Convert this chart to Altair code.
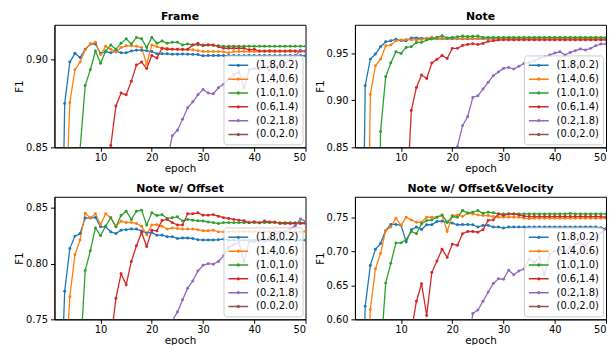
import altair as alt
import pandas as pd

SERIES = ["(1.8,0.2)", "(1.4,0.6)", "(1.0,1.0)", "(0.6,1.4)", "(0.2,1.8)", "(0.0,2.0)"]
COLORS = ["#1f77b4", "#ff7f0e", "#2ca02c", "#d62728", "#9467bd", "#8c564b"]
X_TICKS = [10, 20, 30, 40, 50]

# Each series: (first epoch, values from that epoch to 50). The first value sits below the axis floor.
FRAME = {
    "(1.8,0.2)": (2, [0.70, 0.875, 0.8987, 0.9037, 0.9013, 0.906, 0.909, 0.909,
                      0.9036, 0.9047, 0.904, 0.905, 0.904, 0.904, 0.905, 0.9055, 0.9055, 0.9052,
                      0.9047, 0.9034, 0.9034, 0.9034, 0.9032, 0.9032, 0.9033, 0.9032, 0.9031, 0.903,
                      0.9023, 0.9024, 0.9024, 0.9025, 0.9024, 0.9024, 0.9025, 0.9024, 0.9024, 0.9025,
                      0.9024, 0.9024, 0.9025, 0.9024, 0.9024, 0.9024, 0.9025, 0.9024, 0.9024, 0.9024, 0.9023]),
    "(1.4,0.6)": (3, [0.80, 0.8755, 0.8943, 0.8987, 0.9057, 0.909, 0.910,
                      0.903, 0.9077, 0.906, 0.9045, 0.907, 0.908, 0.908, 0.9077, 0.907, 0.8975,
                      0.9085, 0.9075, 0.9066, 0.9066, 0.906, 0.906, 0.9057, 0.9057, 0.9057, 0.9052,
                      0.9047, 0.9047, 0.9047, 0.9047, 0.9045, 0.904, 0.9047, 0.9047, 0.9048, 0.9047,
                      0.9047, 0.9048, 0.9047, 0.9047, 0.9047, 0.9048, 0.9047, 0.9047, 0.9047, 0.9048, 0.9047]),
    "(1.0,1.0)": (5, [0.60, 0.849, 0.8853, 0.8943, 0.905,
                      0.898, 0.905, 0.9085, 0.906, 0.9094, 0.912, 0.909, 0.9128, 0.912, 0.907,
                      0.9128, 0.9094, 0.9108, 0.9094, 0.910, 0.910, 0.9085, 0.909, 0.9085, 0.9085,
                      0.9085, 0.9085, 0.9082, 0.908, 0.9077, 0.9077, 0.9078, 0.9077, 0.9077, 0.9078,
                      0.9077, 0.9077, 0.9078, 0.9077, 0.9077, 0.9077, 0.9078, 0.9077, 0.9077, 0.9077, 0.9077]),
    "(0.6,1.4)": (11, [0.78, 0.851, 0.8736, 0.881, 0.880, 0.8877, 0.897, 0.8987, 0.895,
                       0.9025, 0.901, 0.9066, 0.906, 0.906, 0.906, 0.906, 0.906, 0.9085, 0.9094,
                       0.908, 0.9085, 0.9085, 0.9075, 0.9066, 0.9066, 0.9066, 0.9066, 0.9066, 0.9057,
                       0.906, 0.905, 0.905, 0.9052, 0.905, 0.905, 0.905, 0.9052, 0.905, 0.905, 0.905]),
    "(0.2,1.8)": (23, [0.843, 0.8566, 0.8598, 0.866, 0.8726, 0.876, 0.880,
                       0.883, 0.881, 0.8806, 0.884, 0.886, 0.889, 0.8915, 0.893, 0.884, 0.8943,
                       0.895, 0.895, 0.896, 0.894, 0.896, 0.897, 0.898, 0.900, 0.902, 0.9055, 0.9045]),
}

NOTE = {
    "(1.8,0.2)": (2, [0.50, 0.9154, 0.9436, 0.949, 0.9567, 0.962, 0.963, 0.9648,
                      0.963, 0.963, 0.966, 0.966, 0.9655, 0.9655, 0.9652, 0.9652, 0.9652, 0.9652,
                      0.9652, 0.9652, 0.9652, 0.9651, 0.9652, 0.9652, 0.9651, 0.9652, 0.9652, 0.9651,
                      0.965, 0.965, 0.9651, 0.965, 0.965, 0.965, 0.9651, 0.965, 0.965, 0.965,
                      0.965, 0.9651, 0.965, 0.965, 0.965, 0.9651, 0.965, 0.965, 0.965, 0.965, 0.965]),
    "(1.4,0.6)": (3, [0.50, 0.906, 0.9365, 0.9436, 0.9578, 0.9585, 0.963,
                      0.9638, 0.9645, 0.964, 0.964, 0.9645, 0.9655, 0.9667, 0.9655, 0.9655, 0.9655,
                      0.9658, 0.9655, 0.9655, 0.9658, 0.9655, 0.9655, 0.9655, 0.9655, 0.9655, 0.9655,
                      0.9655, 0.9655, 0.9655, 0.9655, 0.9655, 0.9655, 0.9655, 0.9655, 0.9655, 0.9655,
                      0.9655, 0.9655, 0.9655, 0.9655, 0.9655, 0.9655, 0.9655, 0.9655, 0.9655, 0.9655, 0.9655]),
    "(1.0,1.0)": (5, [0.40, 0.8667, 0.9248, 0.9394, 0.9514,
                      0.9496, 0.956, 0.9567, 0.9613, 0.9613, 0.9638, 0.965, 0.9667, 0.9684, 0.966,
                      0.9666, 0.9673, 0.968, 0.9676, 0.9678, 0.968, 0.9666, 0.9666, 0.9666, 0.9666,
                      0.9666, 0.9666, 0.9666, 0.9666, 0.9666, 0.9666, 0.9666, 0.9666, 0.9666, 0.9666,
                      0.9666, 0.9666, 0.9666, 0.9666, 0.9666, 0.9666, 0.9666, 0.9666, 0.9666, 0.9666, 0.9666]),
    "(0.6,1.4)": (11, [0.78, 0.889, 0.9136, 0.9267, 0.9231, 0.9394, 0.9433, 0.9475, 0.9443,
                       0.955, 0.955, 0.958, 0.9592, 0.960, 0.959, 0.9602, 0.9624, 0.963, 0.9638,
                       0.964, 0.964, 0.964, 0.964, 0.964, 0.964, 0.964, 0.964, 0.964, 0.964,
                       0.964, 0.964, 0.964, 0.964, 0.964, 0.964, 0.964, 0.964, 0.964, 0.964, 0.964]),
    "(0.2,1.8)": (20, [0.82, 0.8507, 0.873, 0.8825, 0.903, 0.9048, 0.9118, 0.919, 0.926, 0.930,
                       0.9337, 0.9348, 0.933, 0.936, 0.939, 0.940, 0.9418, 0.9443, 0.946, 0.9479,
                       0.950, 0.9514, 0.948, 0.9507, 0.9525, 0.9543, 0.9532, 0.955, 0.9578, 0.9596, 0.9596]),
}

OFFSET = {
    "(1.8,0.2)": (2, [0.65, 0.7753, 0.8135, 0.8247, 0.827, 0.8409, 0.8409, 0.8415,
                      0.833, 0.833, 0.8285, 0.827, 0.830, 0.8305, 0.831, 0.831, 0.8294, 0.8275,
                      0.828, 0.8255, 0.8255, 0.8242, 0.8242, 0.8225, 0.823, 0.823, 0.8225, 0.8215,
                      0.8212, 0.8212, 0.8212, 0.8215, 0.822, 0.821, 0.821, 0.821, 0.821, 0.821,
                      0.821, 0.821, 0.821, 0.821, 0.821, 0.821, 0.821, 0.821, 0.821, 0.821, 0.821]),
    "(1.4,0.6)": (3, [0.69, 0.7703, 0.808, 0.8212, 0.8453, 0.8409, 0.8447,
                      0.835, 0.8447, 0.841, 0.8335, 0.838, 0.837, 0.837, 0.836, 0.8335, 0.826,
                      0.8347, 0.835, 0.8335, 0.831, 0.832, 0.8315, 0.831, 0.831, 0.831, 0.8305,
                      0.8295, 0.8295, 0.830, 0.8285, 0.8285, 0.8288, 0.8288, 0.8288, 0.8288, 0.8288,
                      0.8288, 0.8288, 0.8288, 0.8288, 0.8288, 0.8288, 0.8288, 0.8288, 0.8288, 0.8288, 0.8288]),
    "(1.0,1.0)": (6, [0.714, 0.7938, 0.8115, 0.832,
                      0.825, 0.8338, 0.8412, 0.833, 0.8432, 0.847, 0.8397, 0.847, 0.848, 0.8347,
                      0.8456, 0.8432, 0.844, 0.8406, 0.8412, 0.842, 0.8382, 0.8397, 0.839, 0.8385,
                      0.8382, 0.8374, 0.8368, 0.836, 0.8368, 0.8368, 0.8368, 0.8368, 0.8368, 0.8368,
                      0.8368, 0.8368, 0.8368, 0.8368, 0.8368, 0.8368, 0.8368, 0.8368, 0.8368, 0.8368, 0.8368]),
    "(0.6,1.4)": (12, [0.731, 0.769, 0.791, 0.781, 0.802, 0.816, 0.828, 0.8153,
                       0.830, 0.8294, 0.8388, 0.8397, 0.8368, 0.8347, 0.8347, 0.8447, 0.8447, 0.8456,
                       0.8435, 0.8435, 0.844, 0.8426, 0.8412, 0.8405, 0.8397, 0.839, 0.8385, 0.8368,
                       0.8376, 0.8365, 0.8382, 0.8374, 0.8374, 0.836, 0.836, 0.836, 0.836, 0.836, 0.836]),
    "(0.2,1.8)": (23, [0.70, 0.749, 0.7565, 0.7675, 0.778, 0.7845, 0.7933,
                       0.7985, 0.800, 0.7995, 0.802, 0.807, 0.8145, 0.817, 0.819, 0.8015, 0.820,
                       0.8195, 0.822, 0.820, 0.824, 0.826, 0.828, 0.829, 0.831, 0.834, 0.840, 0.838]),
}

OFFSET_VEL = {
    "(1.8,0.2)": (2, [0.30, 0.6194, 0.679, 0.703, 0.7113, 0.7306, 0.7394, 0.7394,
                      0.738, 0.7137, 0.7316, 0.7355, 0.732, 0.7389, 0.7389, 0.7437, 0.7442, 0.7427,
                      0.7413, 0.7389, 0.7392, 0.7392, 0.7389, 0.7355, 0.738, 0.738, 0.7355, 0.7355,
                      0.734, 0.7355, 0.7355, 0.7355, 0.7355, 0.7355, 0.7355, 0.7355, 0.7355, 0.7355,
                      0.7355, 0.7355, 0.7355, 0.7355, 0.7355, 0.7355, 0.7355, 0.7355, 0.7355, 0.7345, 0.733]),
    "(1.4,0.6)": (3, [0.45, 0.6145, 0.674, 0.6968, 0.7306, 0.7355, 0.7485,
                      0.738, 0.750, 0.746, 0.7427, 0.7427, 0.750, 0.750, 0.750, 0.7524, 0.729,
                      0.7524, 0.7534, 0.751, 0.7558, 0.7548, 0.7534, 0.7524, 0.7524, 0.751, 0.750,
                      0.750, 0.750, 0.750, 0.750, 0.7485, 0.7476, 0.7485, 0.7485, 0.7485, 0.7485,
                      0.7485, 0.7485, 0.7485, 0.7485, 0.7485, 0.7485, 0.7485, 0.7485, 0.7485, 0.7485, 0.7485]),
    "(1.0,1.0)": (6, [0.5468, 0.6532, 0.6823, 0.7123,
                      0.7123, 0.717, 0.729, 0.7258, 0.7403, 0.745, 0.746, 0.750, 0.7534, 0.7427,
                      0.751, 0.750, 0.7597, 0.7563, 0.7573, 0.7597, 0.7558, 0.7573, 0.7565, 0.7548,
                      0.7548, 0.7548, 0.7548, 0.7548, 0.7548, 0.7548, 0.7548, 0.7548, 0.7548, 0.7548,
                      0.7548, 0.7548, 0.7548, 0.7555, 0.7548, 0.7548, 0.7548, 0.7548, 0.7548, 0.7548, 0.7548]),
    "(0.6,1.4)": (12, [0.5823, 0.6266, 0.6523, 0.6058, 0.6687, 0.6857, 0.703, 0.691,
                       0.7103, 0.7089, 0.7258, 0.729, 0.729, 0.728, 0.7316, 0.7452, 0.746, 0.7548,
                       0.7524, 0.7548, 0.7548, 0.7534, 0.7515, 0.751, 0.751, 0.751, 0.751, 0.751,
                       0.751, 0.751, 0.751, 0.751, 0.751, 0.751, 0.751, 0.751, 0.751, 0.751, 0.750]),
    "(0.2,1.8)": (23, [0.55, 0.6087, 0.6136, 0.6266, 0.640, 0.6528, 0.6595,
                       0.659, 0.6722, 0.6655, 0.671, 0.674, 0.6888, 0.684, 0.6913, 0.665, 0.696,
                       0.700, 0.703, 0.698, 0.706, 0.710, 0.712, 0.708, 0.716, 0.720, 0.727, 0.733]),
}

FONT = "DejaVu Sans"
LEGEND_SYMBOL = ("M-1,0L1,0M-0.09,0A0.09,0.09,0,1,1,0.09,0"
                 "A0.09,0.09,0,1,1,-0.09,0Z")


def to_frame(series):
    rows = []
    for name, (start, vals) in series.items():
        for i, v in enumerate(vals):
            rows.append({"series": name, "epoch": start + i, "f1": v})
    return pd.DataFrame(rows)


def panel(title, series, ydom, yticks):
    df = to_frame(series)
    color = alt.Color(
        "series:N",
        scale=alt.Scale(domain=SERIES, range=COLORS),
        legend=alt.Legend(
            title=None, orient="bottom-right", offset=3, padding=4,
            fillColor="rgba(255,255,255,0.8)", strokeColor="#cccccc", cornerRadius=3,
            labelFont=FONT, labelFontSize=10, labelColor="black",
            symbolType=LEGEND_SYMBOL, symbolSize=400, symbolStrokeWidth=1.5,
            labelOffset=7, rowPadding=2, clipHeight=12,
        ),
    )
    base = alt.Chart(df).encode(
        x=alt.X("epoch:Q", scale=alt.Scale(domain=[1, 50], nice=False),
                axis=alt.Axis(values=X_TICKS, title="epoch", format="d",
                              labelPadding=1, titlePadding=1)),
        y=alt.Y("f1:Q", scale=alt.Scale(domain=ydom, nice=False, zero=False),
                axis=alt.Axis(values=yticks, title="F1", format=".2f",
                              labelPadding=3, titlePadding=1)),
        color=color,
        order="epoch:Q",
    )
    line = base.mark_line(strokeWidth=1.3, clip=True)
    pts = base.mark_circle(size=9, opacity=1, clip=True)
    return alt.layer(line, pts).properties(
        width=254, height=124,
        title=alt.TitleParams(title, font=FONT, fontSize=11, fontWeight="bold",
                              offset=3, anchor="middle", color="black"),
    )


p1 = panel("Frame", FRAME, [0.85, 0.92], [0.85, 0.90])
p2 = panel("Note", NOTE, [0.85, 0.98], [0.85, 0.90, 0.95])
p3 = panel("Note w/ Offset", OFFSET, [0.75, 0.86], [0.75, 0.80, 0.85])
p4 = panel("Note w/ Offset&Velocity", OFFSET_VEL, [0.60, 0.78], [0.60, 0.65, 0.70, 0.75])

top = alt.hconcat(p1, p2, spacing=8).resolve_legend(color="independent")
bottom = alt.hconcat(p3, p4, spacing=8).resolve_legend(color="independent")
chart = (
    alt.vconcat(top, bottom, spacing=8)
    .resolve_legend(color="independent")
    .properties(padding={"left": 6, "top": 0, "right": 0, "bottom": 0})
    .configure_view(stroke="black", strokeWidth=1)
    .configure_axis(
        grid=False, domainColor="black", tickColor="black", labelColor="black",
        titleColor="black", labelFont=FONT, titleFont=FONT, labelFontSize=10,
        titleFontSize=10.5, titleFontWeight="normal", tickSize=4,
        domainWidth=1, tickWidth=1,
    )
)

chart.save("out.html", embed_options={"renderer": "svg", "actions": False})
